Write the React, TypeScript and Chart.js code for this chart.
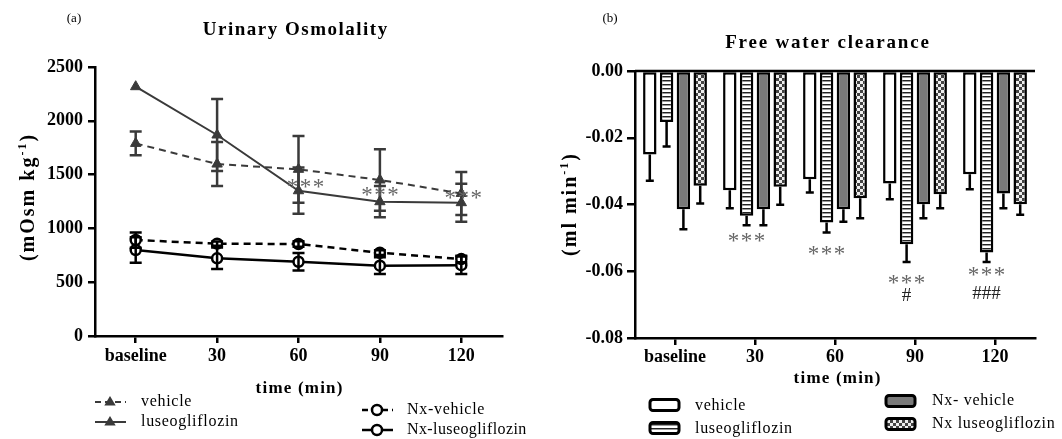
import React, { useEffect, useRef } from 'react';
import { Chart, registerables } from 'chart.js';

Chart.register(...registerables);

// ---------- shared ----------
const timeLabels = ['baseline', '30', '60', '90', '120'];

// ---------- panel (a): Urinary Osmolality (mOsm kg-1) ----------
const vehicleOsm = [1790, 1598, 1549, 1450, 1325];
const vehicleOsmSem = [110, 205, 310, 285, 200];
const luseoOsm = [2317, 1868, 1350, 1248, 1239];
const luseoOsmSem = [0, 335, 215, 145, 177];
const nxVehicleOsm = [892, 858, 855, 774, 715];
const nxVehicleOsmSem = [71, 20, 25, 22, 30];
const nxLuseoOsm = [799, 722, 690, 654, 658];
const nxLuseoOsmSem = [118, 100, 82, 78, 82];
const osmStarText = ['***', '***', '***'];
const osmStarIndex = [2, 3, 4];
const osmStarValue = [1425, 1348, 1320];

// ---------- panel (b): Free water clearance (ml min-1) ----------
const vehicleFwc = [-0.025, -0.0357, -0.0324, -0.0337, -0.0309];
const vehicleFwcSem = [0.0079, 0.0054, 0.004, 0.0047, 0.0045];
const luseoFwc = [-0.0153, -0.0434, -0.0454, -0.0519, -0.0544];
const luseoFwcSem = [0.0073, 0.0028, 0.003, 0.0053, 0.0028];
const nxVehicleFwc = [-0.0414, -0.0414, -0.0414, -0.0399, -0.0367];
const nxVehicleFwcSem = [0.006, 0.0048, 0.0038, 0.0042, 0.0044];
const nxLuseoFwc = [-0.0344, -0.0347, -0.0381, -0.0369, -0.0399];
const nxLuseoFwcSem = [0.0053, 0.0054, 0.006, 0.0042, 0.0032];
const fwcStarText = ['***', '***', '***', '***'];
const fwcStarIndex = [1, 2, 3, 4];
const fwcStarValue = [-0.0497, -0.0536, -0.0624, -0.0599];
const fwcHashText = ['#', '###'];
const fwcHashIndex = [3, 4];
const fwcHashValue = [-0.0675, -0.0668];

const SERIF = '"Liberation Serif", "Times New Roman", serif';
const DARK = '#3a3a3a';
const STAR = '#666';

function drawText(
  ctx: CanvasRenderingContext2D,
  text: string,
  x: number,
  y: number,
  size: number,
  bold = false,
  align: CanvasTextAlign = 'center',
  spacing = 0,
  color = '#000'
) {
  ctx.save();
  ctx.font = `${bold ? 'bold ' : ''}${size}px ${SERIF}`;
  ctx.fillStyle = color;
  ctx.textAlign = align;
  ctx.textBaseline = 'middle';
  (ctx as any).letterSpacing = `${spacing}px`;
  ctx.fillText(text, align === 'center' ? x + spacing / 2 : x, y);
  ctx.restore();
}

function drawYTitle(
  ctx: CanvasRenderingContext2D,
  cx: number,
  cy: number,
  main: string,
  sup: string,
  tail: string,
  size: number,
  spacing: number
) {
  ctx.save();
  ctx.translate(cx, cy);
  ctx.rotate(-Math.PI / 2);
  ctx.fillStyle = '#000';
  ctx.textAlign = 'left';
  ctx.textBaseline = 'alphabetic';
  (ctx as any).letterSpacing = `${spacing}px`;
  const mainFont = `bold ${size}px ${SERIF}`;
  const supFont = `bold ${Math.round(size * 0.62)}px ${SERIF}`;
  ctx.font = mainFont;
  const w1 = ctx.measureText(main).width;
  const w3 = ctx.measureText(tail).width;
  ctx.font = supFont;
  const w2 = ctx.measureText(sup).width;
  let x = -(w1 + w2 + w3) / 2;
  const base = size * 0.35;
  ctx.font = mainFont;
  ctx.fillText(main, x, base);
  x += w1;
  ctx.font = supFont;
  ctx.fillText(sup, x, base - size * 0.42);
  x += w2;
  ctx.font = mainFont;
  ctx.fillText(tail, x, base);
  ctx.restore();
}

function triangle(ctx: CanvasRenderingContext2D, x: number, y: number, r: number, color: string) {
  ctx.save();
  ctx.fillStyle = color;
  ctx.beginPath();
  ctx.moveTo(x, y - r);
  ctx.lineTo(x + r * 0.95, y + r * 0.6);
  ctx.lineTo(x - r * 0.95, y + r * 0.6);
  ctx.closePath();
  ctx.fill();
  ctx.restore();
}

function circle(ctx: CanvasRenderingContext2D, x: number, y: number, r: number) {
  ctx.save();
  ctx.fillStyle = '#fff';
  ctx.strokeStyle = '#000';
  ctx.lineWidth = 2.5;
  ctx.beginPath();
  ctx.arc(x, y, r, 0, Math.PI * 2);
  ctx.fill();
  ctx.stroke();
  ctx.restore();
}

function legendLine(ctx: CanvasRenderingContext2D, x1: number, x2: number, y: number, color: string, width: number, dash: number[]) {
  ctx.save();
  ctx.strokeStyle = color;
  ctx.lineWidth = width;
  ctx.setLineDash(dash);
  ctx.beginPath();
  ctx.moveTo(x1, y);
  ctx.lineTo(x2, y);
  ctx.stroke();
  ctx.restore();
}

function makeStripe(ctx0: CanvasRenderingContext2D): CanvasPattern {
  const c = document.createElement('canvas');
  c.width = 4;
  c.height = 4;
  const g = c.getContext('2d')!;
  g.fillStyle = '#fff';
  g.fillRect(0, 0, 4, 4);
  g.fillStyle = '#222';
  g.fillRect(0, 0, 4, 1);
  g.fillStyle = '#999';
  g.fillRect(0, 1, 4, 1);
  return ctx0.createPattern(c, 'repeat')!;
}

function makeChecker(ctx0: CanvasRenderingContext2D): CanvasPattern {
  const c = document.createElement('canvas');
  c.width = 6;
  c.height = 6;
  const g = c.getContext('2d')!;
  g.fillStyle = '#eee';
  g.fillRect(0, 0, 6, 6);
  g.fillStyle = '#444';
  g.fillRect(0, 0, 3, 3);
  g.fillRect(3, 3, 3, 3);
  return ctx0.createPattern(c, 'repeat')!;
}

const tickFont = { family: SERIF, size: 18, weight: 'bold' as const };

function leftConfig(): any {
  const series = [
    { values: vehicleOsm, sem: vehicleOsmSem, color: DARK },
    { values: luseoOsm, sem: luseoOsmSem, color: DARK },
    { values: nxVehicleOsm, sem: nxVehicleOsmSem, color: '#000' },
    { values: nxLuseoOsm, sem: nxLuseoOsmSem, color: '#000' },
  ];
  const starDx = [7, 0, 2];
  const decor = {
    id: 'leftDecor',
    afterDatasetsDraw(chart: any) {
      const ctx: CanvasRenderingContext2D = chart.ctx;
      const xs = chart.scales.x;
      const ys = chart.scales.y;
      series.forEach((s) => {
        s.values.forEach((v, i) => {
          const e = s.sem[i];
          if (!e) return;
          const px = xs.getPixelForValue(i);
          const t = ys.getPixelForValue(v + e);
          const b = ys.getPixelForValue(v - e);
          ctx.save();
          ctx.strokeStyle = s.color;
          ctx.lineWidth = 2.5;
          ctx.beginPath();
          ctx.moveTo(px, t);
          ctx.lineTo(px, b);
          ctx.moveTo(px - 6, t);
          ctx.lineTo(px + 6, t);
          ctx.moveTo(px - 6, b);
          ctx.lineTo(px + 6, b);
          ctx.stroke();
          ctx.restore();
        });
      });
      osmStarText.forEach((t, k) => {
        const px = xs.getPixelForValue(osmStarIndex[k]) + starDx[k];
        const py = ys.getPixelForValue(osmStarValue[k]);
        drawText(ctx, t, px, py + 5, 23, false, 'center', 1.5, STAR);
      });
    },
    afterDraw(chart: any) {
      const ctx: CanvasRenderingContext2D = chart.ctx;
      drawText(ctx, '(a)', 74, 19, 13);
      drawText(ctx, 'Urinary Osmolality', 295, 30, 19, true, 'center', 1.5);
      drawText(ctx, 'time (min)', 299, 389, 17, true, 'center', 1.2);
      drawYTitle(ctx, 27, 197, '(mOsm kg', '-1', ')', 20, 2);
      // legend
      legendLine(ctx, 95, 126, 402, DARK, 2, [6, 4]);
      triangle(ctx, 110, 402, 6, DARK);
      drawText(ctx, 'vehicle', 141, 402, 16, false, 'left', 0.7);
      legendLine(ctx, 95, 126, 422, DARK, 2, []);
      triangle(ctx, 110, 422, 6, DARK);
      drawText(ctx, 'luseogliflozin', 141, 422, 16, false, 'left', 0.7);
      legendLine(ctx, 362, 393, 410, '#000', 2.5, [6, 4]);
      circle(ctx, 377, 410, 5);
      drawText(ctx, 'Nx-vehicle', 407, 410, 16, false, 'left', 0.7);
      legendLine(ctx, 362, 393, 430, '#000', 2.5, []);
      circle(ctx, 377, 430, 5);
      drawText(ctx, 'Nx-luseogliflozin', 407, 430, 16, false, 'left', 0.4);
    },
  };
  const tri = { pointStyle: 'triangle', pointRadius: 6, pointBackgroundColor: DARK, pointBorderColor: DARK, pointBorderWidth: 1 };
  const circ = { pointStyle: 'circle', pointRadius: 5, pointBackgroundColor: '#fff', pointBorderColor: '#000', pointBorderWidth: 2.5 };
  return {
    type: 'line',
    data: {
      labels: timeLabels,
      datasets: [
        { label: 'vehicle', data: vehicleOsm, borderColor: DARK, borderWidth: 2, borderDash: [7, 5], ...tri },
        { label: 'luseogliflozin', data: luseoOsm, borderColor: DARK, borderWidth: 2, ...tri },
        { label: 'Nx-vehicle', data: nxVehicleOsm, borderColor: '#000', borderWidth: 2.5, borderDash: [7, 5], ...circ },
        { label: 'Nx-luseogliflozin', data: nxLuseoOsm, borderColor: '#000', borderWidth: 2.5, ...circ },
      ],
    },
    options: {
      animation: false,
      responsive: false,
      layout: { padding: { left: 0, right: 28, top: 67, bottom: 73 } },
      plugins: { legend: { display: false }, tooltip: { enabled: false }, title: { display: false } },
      scales: {
        x: {
          type: 'category',
          offset: true,
          grid: { display: true, drawOnChartArea: false, offset: false, color: '#000', lineWidth: 2.5, tickLength: 7 },
          border: { display: true, color: '#000', width: 2.5 },
          ticks: { color: '#000', font: tickFont, padding: 3, maxRotation: 0, autoSkip: false },
          afterFit: (s: any) => {
            s.height = 30;
          },
        },
        y: {
          min: 0,
          max: 2500,
          grid: { display: true, drawOnChartArea: false, color: '#000', lineWidth: 2.5, tickLength: 7 },
          border: { display: true, color: '#000', width: 2.5 },
          ticks: { stepSize: 500, color: '#000', font: tickFont, padding: 5, callback: (v: any) => String(v) },
          afterFit: (s: any) => {
            s.width = 95;
          },
        },
      },
    },
    plugins: [decor],
  };
}

function rightConfig(canvas: HTMLCanvasElement): any {
  const ctx0 = canvas.getContext('2d')!;
  const stripe = makeStripe(ctx0);
  const checker = makeChecker(ctx0);
  const sems = [vehicleFwcSem, luseoFwcSem, nxVehicleFwcSem, nxLuseoFwcSem];
  const decor = {
    id: 'rightDecor',
    afterDatasetsDraw(chart: any) {
      const ctx: CanvasRenderingContext2D = chart.ctx;
      const ys = chart.scales.y;
      const area = chart.chartArea;
      ctx.save();
      ctx.strokeStyle = '#000';
      ctx.lineWidth = 2.5;
      ctx.beginPath();
      const z = ys.getPixelForValue(0);
      ctx.moveTo(area.left, z);
      ctx.lineTo(area.right, z);
      ctx.stroke();
      ctx.restore();
      sems.forEach((sem, d) => {
        const meta = chart.getDatasetMeta(d);
        const vals = chart.data.datasets[d].data as number[];
        meta.data.forEach((bar: any, i: number) => {
          const y1 = ys.getPixelForValue(vals[i]);
          const y2 = ys.getPixelForValue(vals[i] - sem[i]);
          ctx.save();
          ctx.strokeStyle = '#000';
          ctx.lineWidth = 2.5;
          ctx.beginPath();
          ctx.moveTo(bar.x, y1);
          ctx.lineTo(bar.x, y2);
          ctx.moveTo(bar.x - 4, y2);
          ctx.lineTo(bar.x + 4, y2);
          ctx.stroke();
          ctx.restore();
        });
      });
      const meta1 = chart.getDatasetMeta(1);
      fwcStarText.forEach((t, k) => {
        const px = meta1.data[fwcStarIndex[k]].x;
        const py = ys.getPixelForValue(fwcStarValue[k]);
        drawText(ctx, t, px, py + 5, 23, false, 'center', 1.5, STAR);
      });
      fwcHashText.forEach((t, k) => {
        const px = meta1.data[fwcHashIndex[k]].x;
        const py = ys.getPixelForValue(fwcHashValue[k]);
        drawText(ctx, t, px, py, 19, false, 'center', 0, '#222');
      });
    },
    afterDraw(chart: any) {
      const ctx: CanvasRenderingContext2D = chart.ctx;
      drawText(ctx, '(b)', 80, 19, 13);
      drawText(ctx, 'Free water clearance', 297, 43, 19, true, 'center', 1.8);
      drawText(ctx, 'time (min)', 307, 379, 17, true, 'center', 1.2);
      drawYTitle(ctx, 39, 204, '(ml min', '-1', ')', 20, 2);
      const box = (x: number, y: number, fill: any) => {
        ctx.save();
        ctx.fillStyle = fill;
        ctx.strokeStyle = '#000';
        ctx.lineWidth = 3;
        ctx.beginPath();
        (ctx as any).roundRect(x, y - 5.5, 29, 11, 3);
        ctx.fill();
        ctx.stroke();
        ctx.restore();
      };
      box(120, 405, '#fff');
      drawText(ctx, 'vehicle', 165, 406, 16, false, 'left', 0.7);
      box(120, 428, stripe);
      drawText(ctx, 'luseogliflozin', 165, 429, 16, false, 'left', 0.7);
      box(356, 401, '#7a7a7a');
      drawText(ctx, 'Nx- vehicle', 402, 401, 16, false, 'left', 0.7);
      box(356, 424, checker);
      drawText(ctx, 'Nx luseogliflozin', 402, 424, 16, false, 'left', 0.7);
    },
  };
  const common = { borderColor: '#000', borderWidth: 2.5, borderSkipped: false, categoryPercentage: 0.84, barPercentage: 0.8 };
  return {
    type: 'bar',
    data: {
      labels: timeLabels,
      datasets: [
        { label: 'vehicle', data: vehicleFwc, backgroundColor: '#fff', ...common },
        { label: 'luseogliflozin', data: luseoFwc, backgroundColor: stripe, ...common },
        { label: 'Nx- vehicle', data: nxVehicleFwc, backgroundColor: '#7a7a7a', ...common },
        { label: 'Nx luseogliflozin', data: nxLuseoFwc, backgroundColor: checker, ...common },
      ],
    },
    options: {
      animation: false,
      responsive: false,
      layout: { padding: { left: 0, right: 27, top: 71, bottom: 71 } },
      plugins: { legend: { display: false }, tooltip: { enabled: false }, title: { display: false } },
      scales: {
        x: {
          type: 'category',
          offset: true,
          grid: { display: true, drawOnChartArea: false, offset: false, color: '#000', lineWidth: 2.5, tickLength: 7 },
          border: { display: true, color: '#000', width: 2.5 },
          ticks: { color: '#000', font: tickFont, padding: 2, maxRotation: 0, autoSkip: false },
          afterFit: (s: any) => {
            s.height = 30;
          },
        },
        y: {
          min: -0.08,
          max: 0,
          grid: { display: true, drawOnChartArea: false, color: '#000', lineWidth: 2.5, tickLength: 8 },
          border: { display: true, color: '#000', width: 2.5 },
          ticks: {
            stepSize: 0.02,
            color: '#000',
            font: tickFont,
            padding: 4,
            callback: (v: any) => {
              const n = Number(v);
              return (Math.abs(n) < 1e-9 ? 0 : n).toFixed(2);
            },
          },
          afterFit: (s: any) => {
            s.width = 105;
          },
        },
      },
    },
    plugins: [decor],
  };
}

export default function App() {
  const leftRef = useRef<HTMLCanvasElement>(null);
  const rightRef = useRef<HTMLCanvasElement>(null);
  useEffect(() => {
    const c1 = new Chart(leftRef.current!, leftConfig());
    const c2 = new Chart(rightRef.current!, rightConfig(rightRef.current!));
    return () => {
      c1.destroy();
      c2.destroy();
    };
  }, []);
  return (
    <div style={{ position: 'fixed', left: 0, top: 0, width: 1062, height: 439, background: '#fff' }}>
      <canvas ref={leftRef} width={530} height={439} style={{ position: 'absolute', left: 0, top: 0, width: 530, height: 439 }} />
      <canvas ref={rightRef} width={532} height={439} style={{ position: 'absolute', left: 530, top: 0, width: 532, height: 439 }} />
    </div>
  );
}
